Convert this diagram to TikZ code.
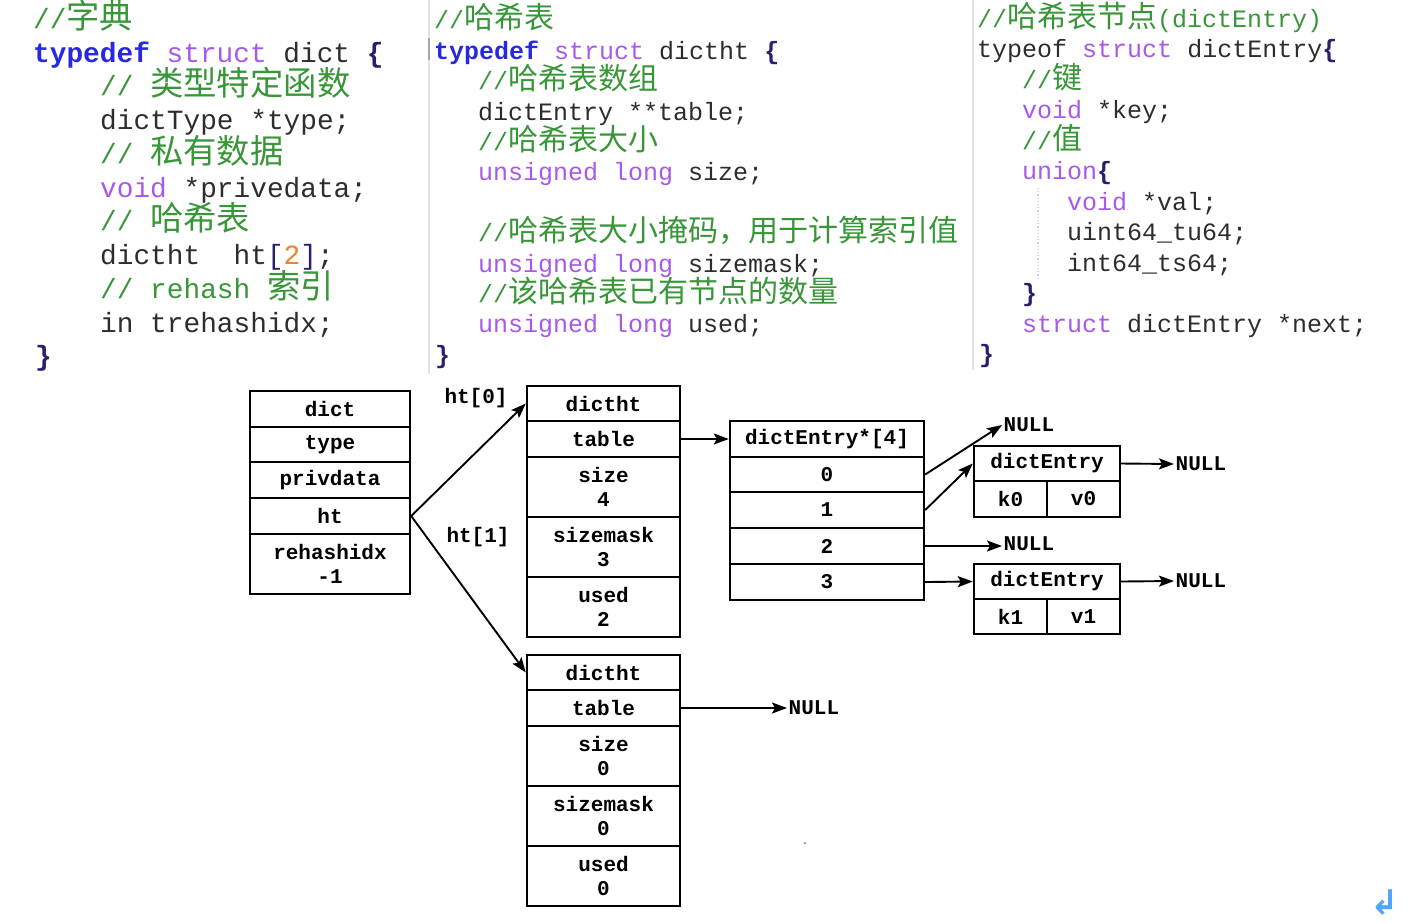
\documentclass[tikz,border=0pt]{standalone}
\usepackage{fontspec}
\setmonofont{Liberation Mono}
\newfontfamily\codefont{Liberation Mono}
\newfontfamily\cjk{Noto Sans CJK SC}[Scale=1.2]
\newfontfamily\symfont{DejaVu Sans}
\usetikzlibrary{arrows.meta}

\definecolor{txt}{RGB}{45,45,45}
\definecolor{cmt}{RGB}{56,150,56}
\definecolor{kwblue}{RGB}{40,40,225}
\definecolor{kwpurple}{RGB}{168,88,235}
\definecolor{num}{RGB}{240,130,40}
\definecolor{brc}{RGB}{40,32,110}
\definecolor{retblue}{RGB}{80,165,255}

% code colouring helpers
\newcommand\cn[1]{{\cjk #1}}
\newcommand\cm[1]{\textcolor{cmt}{#1}}
\newcommand\kwa[1]{\textcolor{kwblue}{\bfseries #1}}
\newcommand\kwb[1]{\textcolor{kwpurple}{#1}}
\newcommand\lbr{\textcolor{brc}{\bfseries\{}}
\newcommand\rbr{\textcolor{brc}{\bfseries\}}}

\begin{document}
\begin{tikzpicture}[x=1pt,y=-1pt,
  code/.style={inner sep=0pt, anchor=base west, text=txt},
  codeL/.style={code, font=\codefont\fontsize{27.8}{33}\selectfont},
  codeS/.style={code, font=\codefont\fontsize{25}{30}\selectfont},
  cell/.style={draw, line width=2.4pt, inner sep=0pt, align=center,
    font=\codefont\bfseries\fontsize{21}{24}\selectfont},
  lbl/.style={inner sep=1.5pt, font=\codefont\bfseries\fontsize{21}{24}\selectfont},
  arr/.style={-{Stealth[length=15pt,width=11pt,inset=3pt]}, line width=1.9pt},
  sepline/.style={gray!22, line width=1.2pt}]
\useasboundingbox (0,0) rectangle (1412,922);

% editor column separators
\draw[sepline] (429,0) -- (429,374);
\draw[sepline] (973,0) -- (973,370);
\draw[gray!70, line width=1.8pt] (429,38) -- (429,60);
\draw[gray!30, dotted, line width=1.2pt] (1038,188) -- (1038,278);

% struct dict
\node[codeL] (L1) at (33,28.3) {\cm{//\cn{字典}}};
\node[codeL] (L2) at (33,62) {\kwa{typedef} \kwb{struct} dict \lbr};
\node[codeL] (L3) at (100,95.8) {\cm{// \cn{类型特定函数}}};
\node[codeL] (L4) at (100,129.5) {dictType *type;};
\node[codeL] (L5) at (100,163.3) {\cm{// \cn{私有数据}}};
\node[codeL] (L6) at (100,197) {\kwb{void} *privedata;};
\node[codeL] (L7) at (100,230.8) {\cm{// \cn{哈希表}}};
\node[codeL] (L8) at (100,264.5) {dictht\ \ ht\textcolor{brc}{[}\textcolor{num}{2}\textcolor{brc}{]};};
\node[codeL] (L9) at (100,298.3) {\cm{// rehash \cn{索引}}};
\node[codeL] (L10) at (100,332) {in trehashidx;};
\node[codeL] (L11) at (35,365.8) {\rbr};

% struct dictht
\node[codeS] (M1) at (434,28.8) {\cm{//\cn{哈希表}}};
\node[codeS] (M2) at (434,59.2) {\kwa{typedef} \kwb{struct} dictht \lbr};
\node[codeS] (M3) at (478,89.6) {\cm{//\cn{哈希表数组}}};
\node[codeS] (M4) at (478,120) {dictEntry **table;};
\node[codeS] (M5) at (478,150.4) {\cm{//\cn{哈希表大小}}};
\node[codeS] (M6) at (478,180.8) {\kwb{unsigned long} size;};
\node[codeS] (M7) at (478,241.6) {\cm{//\cn{哈希表大小掩码，用于计算索引值}}};
\node[codeS] (M8) at (478,272) {\kwb{unsigned long} sizemask;};
\node[codeS] (M9) at (478,302.4) {\cm{//\cn{该哈希表已有节点的数量}}};
\node[codeS] (M10) at (478,332.8) {\kwb{unsigned long} used;};
\node[codeS] (M11) at (435,363.2) {\rbr};

% struct dictEntry
\node[codeS] (R1) at (977,27) {\cm{//\cn{哈希表节点}(dictEntry)}};
\node[codeS] (R2) at (977,57.5) {typeof \kwb{struct} dictEntry\lbr};
\node[codeS] (R3) at (1022,88) {\cm{//\cn{键}}};
\node[codeS] (R4) at (1022,118.5) {\kwb{void} *key;};
\node[codeS] (R5) at (1022,149) {\cm{//\cn{值}}};
\node[codeS] (R6) at (1022,179.5) {\kwb{union}\lbr};
\node[codeS] (R7) at (1067,210) {\kwb{void} *val;};
\node[codeS] (R8) at (1067,240.5) {uint64\_tu64;};
\node[codeS] (R9) at (1067,271) {int64\_ts64;};
\node[codeS] (R10) at (1022,301.5) {\rbr};
\node[codeS] (R11) at (1022,332) {\kwb{struct} dictEntry *next;};
\node[codeS] (R12) at (979,362.5) {\rbr};

% dict
\node[cell, minimum width=160pt, minimum height=36pt] (d0) at (330,409) {dict};
\node[cell, minimum width=160pt, minimum height=35pt] (d1) at (330,444.5) {type};
\node[cell, minimum width=160pt, minimum height=36pt] (d2) at (330,480) {privdata};
\node[cell, minimum width=160pt, minimum height=36pt] (d3) at (330,516) {ht};
\node[cell, minimum width=160pt, minimum height=60pt] (d4) at (330,564) {rehashidx\\-1};

% dictht ht[0]
\node[cell, minimum width=153pt, minimum height=35pt] (a0) at (603.5,403.5) {dictht};
\node[cell, minimum width=153pt, minimum height=36pt] (a1) at (603.5,439) {table};
\node[cell, minimum width=153pt, minimum height=60pt] (a2) at (603.5,487) {size\\4};
\node[cell, minimum width=153pt, minimum height=60pt] (a3) at (603.5,547) {sizemask\\3};
\node[cell, minimum width=153pt, minimum height=60pt] (a4) at (603.5,607) {used\\2};

% dictht ht[1]
\node[cell, minimum width=153pt, minimum height=35pt] (b0) at (603.5,672.5) {dictht};
\node[cell, minimum width=153pt, minimum height=36pt] (b1) at (603.5,708) {table};
\node[cell, minimum width=153pt, minimum height=60pt] (b2) at (603.5,756) {size\\0};
\node[cell, minimum width=153pt, minimum height=60pt] (b3) at (603.5,816) {sizemask\\0};
\node[cell, minimum width=153pt, minimum height=60pt] (b4) at (603.5,876) {used\\0};

% bucket array
\node[cell, minimum width=194pt, minimum height=36pt] (t0) at (827,439) {dictEntry*[4]};
\node[cell, minimum width=194pt, minimum height=35pt] (t1) at (827,474.5) {0};
\node[cell, minimum width=194pt, minimum height=36pt] (t2) at (827,510) {1};
\node[cell, minimum width=194pt, minimum height=36pt] (t3) at (827,546) {2};
\node[cell, minimum width=194pt, minimum height=36pt] (t4) at (827,582) {3};

% entries
\node[cell, minimum width=146pt, minimum height=35pt] (e0) at (1047,463.5) {dictEntry};
\node[cell, minimum width=73pt, minimum height=36pt] (k0) at (1010.5,499) {k0};
\node[cell, minimum width=73pt, minimum height=36pt] (v0) at (1083.5,499) {v0};
\node[cell, minimum width=146pt, minimum height=35pt] (f0) at (1047,581.5) {dictEntry};
\node[cell, minimum width=73pt, minimum height=35pt] (k1) at (1010.5,616.5) {k1};
\node[cell, minimum width=73pt, minimum height=35pt] (v1) at (1083.5,616.5) {v1};

% labels
\node[lbl] (h0) at (476,398) {ht[0]};
\node[lbl] (h1) at (478,537) {ht[1]};
\node[lbl, anchor=west] (n0) at (1002,425) {NULL};
\node[lbl, anchor=west] (n1) at (1174,464) {NULL};
\node[lbl, anchor=west] (n2) at (1002,544) {NULL};
\node[lbl, anchor=west] (n3) at (1174,581) {NULL};
\node[lbl, anchor=west] (n4) at (787,708) {NULL};

% pointers
\draw[arr] (d3.east) -- (a0.west);
\draw[arr] (d3.east) -- (b0.west);
\draw[arr] (a1.east) -- (t0.west);
\draw[arr] (t1.east) -- (n0.west);
\draw[arr] (t2.east) -- (e0.west);
\draw[arr] (t3.east) -- (t3.east -| n2.west);
\draw[arr] (t4.east) -- (f0.west);
\draw[arr] (e0.east) -- (n1.west);
\draw[arr] (f0.east) -- (n3.west);
\draw[arr] (b1.east) -- (n4.west);

% stray mark and return glyph
\fill[gray!70] (805,843) circle (1.5pt);
\node[text=retblue, inner sep=0pt, font=\symfont\bfseries\fontsize{34}{34}\selectfont] (ret) at (1385,903) {↲};
\end{tikzpicture}
\end{document}
